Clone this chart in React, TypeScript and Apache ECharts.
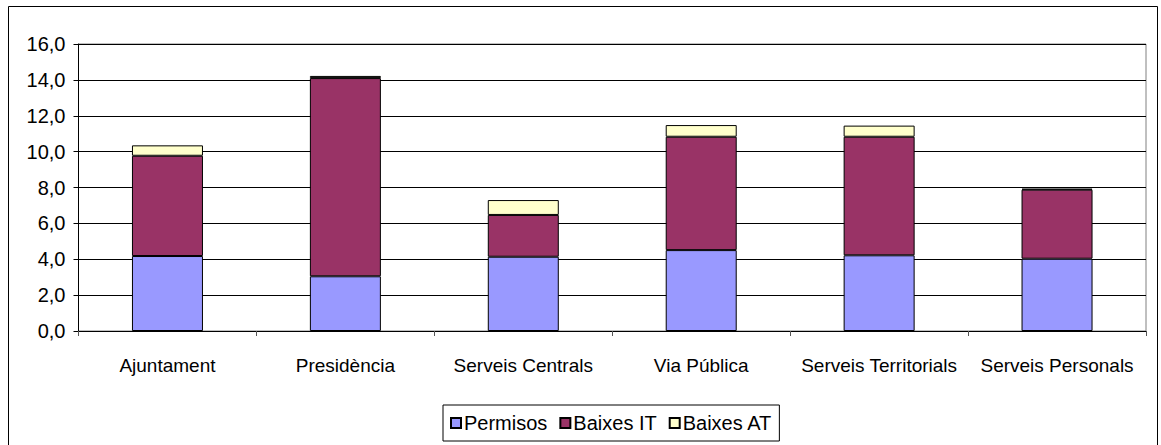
import React, { useEffect, useRef } from "react";
import * as echarts from "echarts";

const categories = ["Ajuntament", "Presidència", "Serveis Centrals", "Via Pública", "Serveis Territorials", "Serveis Personals"];
const permisos = [4.18, 3.05, 4.14, 4.51, 4.22, 4.03];
const baixesIT = [5.59, 11.05, 2.33, 6.32, 6.61, 3.85];
const baixesAT = [0.58, 0.12, 0.83, 0.65, 0.62, 0.05];
const seriesNames = ["Permisos", "Baixes IT", "Baixes AT"];
const colors = ["#9999FF", "#993366", "#FFFFCC"];

const FONT = "'Liberation Sans', Arial, sans-serif";

export default function App() {
  const ref = useRef<HTMLDivElement>(null);
  useEffect(() => {
    const chart = echarts.init(ref.current!, null, { renderer: "svg" });
    const data = [permisos, baixesIT, baixesAT];
    chart.setOption({
      animation: false,
      backgroundColor: "#fff",
      textStyle: { fontFamily: FONT },
      graphic: [
        {
          type: "rect",
          shape: { x: 8.5, y: 6.5, width: 1149, height: 442 },
          style: { fill: "none", stroke: "#000", lineWidth: 1 },
          silent: true,
        },
      ],
      grid: {
        left: 78.5,
        right: 15,
        top: 44,
        bottom: 114,
        show: true,
        borderColor: "#808080",
        borderWidth: 1,
        backgroundColor: "transparent",
      },
      legend: {
        bottom: 4,
        left: 443,
        data: seriesNames,
        itemWidth: 10,
        itemHeight: 10,
        itemGap: 12,
        icon: "rect",
        borderColor: "#000",
        borderWidth: 1,
        padding: [8, 7, 8, 7],
        textStyle: { fontSize: 20, color: "#000", fontFamily: FONT, padding: [0, 0, 0, -2] },
      },
      xAxis: {
        type: "category",
        data: categories,
        boundaryGap: true,
        axisLine: { lineStyle: { color: "#000", width: 1 } },
        axisTick: { show: true, length: 5, lineStyle: { color: "#555" } },
        axisLabel: { fontSize: 19, color: "#000", margin: 25, fontFamily: FONT, interval: 0 },
      },
      yAxis: {
        type: "value",
        min: 0,
        max: 16,
        interval: 2,
        axisLine: { show: true, lineStyle: { color: "#000", width: 1 } },
        axisTick: { show: true, length: 5, lineStyle: { color: "#000" } },
        axisLabel: {
          fontSize: 20,
          color: "#000",
          margin: 13,
          fontFamily: FONT,
          formatter: (v: number) => v.toFixed(1).replace(".", ","),
        },
        splitLine: { show: true, lineStyle: { color: "#000", width: 1 } },
      },
      series: seriesNames.map((name, i) => ({
        name,
        type: "bar",
        stack: "total",
        data: data[i],
        barWidth: 71,
        itemStyle: { color: colors[i], borderColor: "#000", borderWidth: 1 },
      })),
    });
    return () => chart.dispose();
  }, []);
  return <div ref={ref} style={{ position: "fixed", left: 0, top: 0, width: 1161, height: 445 }} />;
}
